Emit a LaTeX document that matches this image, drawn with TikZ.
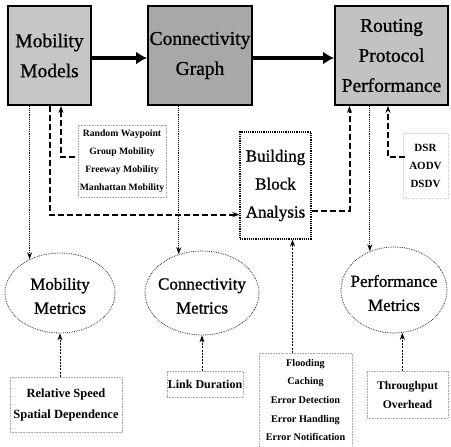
\documentclass[tikz,border=0pt]{standalone}
\usepackage{fontspec}
\setmainfont{Liberation Serif}
\newfontfamily\heavyserif{Liberation Serif}[FakeBold=0.9]
\usetikzlibrary{shapes.geometric,arrows.meta,calc}

\definecolor{stageA}{HTML}{C6C6C6}
\definecolor{stageB}{HTML}{A8A8A8}
\definecolor{stageC}{HTML}{C2C2C2}

\begin{document}
\begin{tikzpicture}[x=1pt,y=-1pt,
  stage/.style={draw=black,line width=1.8pt,inner sep=0pt,align=center,
    font=\heavyserif\fontsize{19.5}{30}\selectfont},
  listbox/.style={draw=gray!70,densely dotted,line width=0.6pt,inner sep=0pt,
    align=center},
  metric/.style={ellipse,draw=black!80,densely dotted,line width=0.8pt,inner sep=0pt},
  metriclabel/.style={align=center,font=\heavyserif\fontsize{17}{24}\selectfont,yshift=-3pt},
  bigarrow/.style={line width=4pt,-{Latex[length=11pt,width=13pt]}},
  tip/.style={-{Stealth[length=7pt,width=5pt]}},
  dotline/.style={densely dotted,line width=0.9pt},
  dashline/.style={dash pattern=on 6pt off 3pt,line width=2pt},
  thinline/.style={dash pattern=on 2pt off 1.2pt,line width=0.9pt}]

\useasboundingbox (0,0) rectangle (451,447);

% main pipeline
\node[stage,fill=stageA,minimum width=83pt,minimum height=99pt] (mm) at (49.5,55.5)
  {\raisebox{-5pt}{Mobility}\\\raisebox{-5pt}{Models}};
\node[stage,fill=stageB,minimum width=104pt,minimum height=99pt] (cg) at (200,55.5)
  {\raisebox{-3pt}{Connectivity}\\\raisebox{-3pt}{Graph}};
\node[stage,fill=stageC,minimum width=113pt,minimum height=99pt] (rpp) at (391.5,55.5)
  {\raisebox{-4pt}{Routing}\\\raisebox{-4pt}{Protocol}\\\raisebox{-4pt}{Performance}};

\draw[bigarrow] ($(mm.east)+(0,2.5)$) -- ($(cg.west)+(0,2.5)$);
\draw[bigarrow] ($(cg.east)+(0,2.5)$) -- ($(rpp.west)+(0,2.5)$);

% lists of options
\node[listbox,minimum width=88pt,minimum height=72pt,
  font=\bfseries\fontsize{9.7}{18}\selectfont] (mlist) at (122,161)
  {\raisebox{-5pt}{Random Waypoint}\\\raisebox{-5pt}{Group Mobility}\\
   \raisebox{-5pt}{Freeway Mobility}\\\raisebox{-5pt}{Manhattan Mobility}};
\node[listbox,draw=gray!35,minimum width=45pt,minimum height=65pt,
  font=\bfseries\fontsize{11}{18}\selectfont] (plist) at (425.5,165.5)
  {DSR\\AODV\\DSDV};

% building block analysis
\node[draw=black,densely dotted,line width=1.2pt,minimum width=71pt,minimum height=107pt,
  inner sep=0pt,align=center,font=\heavyserif\fontsize{17}{28}\selectfont] (bba) at (275.5,185.5)
  {\raisebox{-9pt}{Building}\\\raisebox{-9pt}{Block}\\\raisebox{-9pt}{Analysis}};

% metrics
\node[metric,minimum width=110pt,minimum height=80pt,
  label={[metriclabel]center:{Mobility\\Metrics}}] (mmet) at (60,293) {};
\node[metric,minimum width=114pt,minimum height=84pt,
  label={[metriclabel]center:{Connectivity\\Metrics}}] (cmet) at (202,293) {};
\node[metric,minimum width=106pt,minimum height=86pt,
  label={[metriclabel]center:{Performance\\Metrics}}] (pmet) at (394,290) {};

% measured quantities
\node[listbox,minimum width=112pt,minimum height=55pt,
  font=\bfseries\fontsize{12.5}{21}\selectfont] (rel) at (66,404.5)
  {\raisebox{-3pt}{Relative Speed}\\\raisebox{-3pt}{Spatial Dependence}};
\node[listbox,minimum width=76pt,minimum height=26pt,
  font=\bfseries\fontsize{12}{18}\selectfont] (link) at (205,384)
  {\raisebox{-3pt}{Link Duration}};
\node[listbox,minimum width=93pt,minimum height=94pt,
  font=\bfseries\fontsize{10.2}{18.7}\selectfont] (flood) at (305.5,400)
  {Flooding\\Caching\\Error Detection\\Error Handling\\Error Notification};
\node[listbox,minimum width=81pt,minimum height=47pt,
  font=\bfseries\fontsize{11.7}{19}\selectfont] (thr) at (407.5,394.5)
  {\raisebox{-3pt}{Throughput}\\\raisebox{-3pt}{Overhead}};

% connectors from the stages
\draw[dotline,tip] (mm.south -| mmet.132) -- (mmet.132);
\draw[dashline,tip] (mm.south) |- ($(bba.south west)+(0,-25)$);
\draw[dashline,tip] ($(mlist.west)+(-3,-4)$) -| ($(mm.south)+(11.5,0)$);
\draw[dotline,tip] (cg.south -| cmet.121) -- (cmet.121);
\draw[dashline,tip] ($(bba.east)+(0,25)$) -| ($(rpp.south)+(-42,0)$);
\draw[dotline,tip] (rpp.south -| pmet.122) -- (pmet.122);
\draw[dashline,tip] ($(plist.west)+(2,-8.5)$) -| ($(rpp.south)+(-3.5,0)$);

% connectors from the measured quantities
\draw[thinline,tip] (rel.north -| mmet.south) -- (mmet.south);
\draw[thinline,tip] (link.north -| cmet.south) -- (cmet.south);
\draw[thinline,tip] (flood.north -| bba.south) ++(17,0) -- ($(bba.south)+(17,0)$);
\draw[thinline,tip] (thr.north -| pmet.-79) -- (pmet.-79);
\end{tikzpicture}
\end{document}
